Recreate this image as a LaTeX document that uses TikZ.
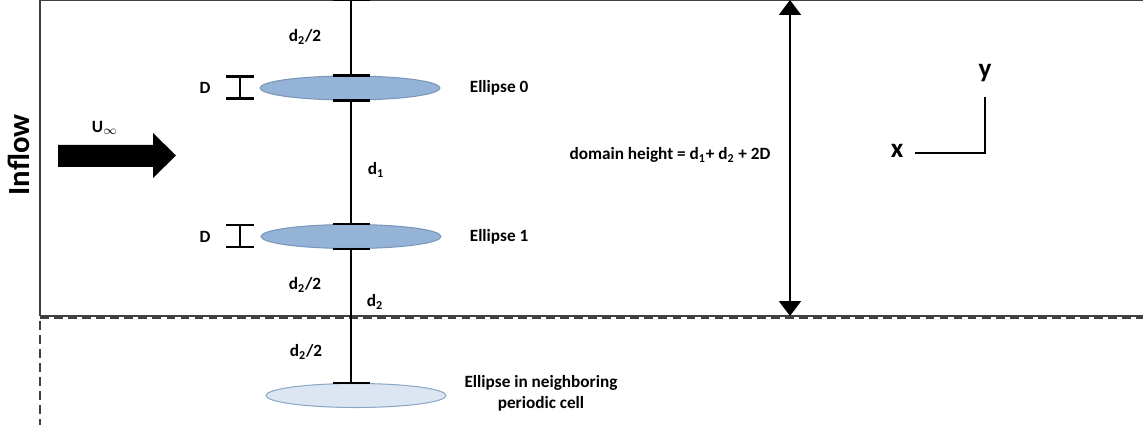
\documentclass[tikz,border=0pt]{standalone}
\usepackage{fontspec}
\setmainfont{Carlito}
\usetikzlibrary{arrows.meta,shapes.geometric,calc}
\definecolor{ellfill}{HTML}{95B3D7}
\definecolor{ellline}{HTML}{7A97BA}
\definecolor{ghostfill}{HTML}{DCE6F2}
\definecolor{ghostline}{HTML}{8DA8C6}
\definecolor{wallgray}{HTML}{404040}
\tikzset{
  lbl/.style={font=\bfseries\fontsize{9.8}{11.9}\selectfont, inner sep=1pt},
  axlbl/.style={font=\bfseries\fontsize{15.5}{17}\selectfont, inner sep=1pt},
  body/.style={ellipse, draw=ellline, fill=ellfill, line width=0.6pt, minimum width=3.6cm, minimum height=0.48cm, inner sep=0},
  ghost/.style={body, draw=ghostline, fill=ghostfill},
  wall/.style={wallgray, line width=1pt},
}
\begin{document}
\begin{tikzpicture}[x=0.02cm, y=-0.02cm, line width=1.25pt]
\useasboundingbox (0,0) rectangle (1143,425);
% channel walls
\draw[wall] (40,316) -- (40,0) -- (1143,0);
\draw[wall] (40,316) -- (1143,316);
\draw[wall, dash pattern=on 5pt off 3pt] (40,318) -- (1143,318);
\draw[wall, dash pattern=on 5pt off 3pt] (40,321) -- (40,425);

% inflow
\node[rotate=90, font=\bfseries\fontsize{17.5}{20}\selectfont] (inflow) at (19,155) {Inflow};
\fill (58,145) -- (153,145) -- (153,133) -- (176,155.5) -- (153,178) -- (153,167) -- (58,167) -- cycle;
\node[lbl] (uinf) at (105,128) {U\textsubscript{$\infty$}};

% ellipses
\node[body] (e0) at (350,88) {};
\node[body] (e1) at (351,236.5) {};
\node[ghost] (e2) at (356,395.5) {};
\node[lbl, anchor=west] (l0) at (467,88) {Ellipse 0};
\node[lbl, anchor=west] (l1) at (467,237) {Ellipse 1};
\node[lbl, align=center] (l2) at (541,393) {Ellipse in neighboring\\periodic cell};

% spacing line
\coordinate (top) at (351,0);
\coordinate (s0) at (e0.south -| top);
\coordinate (n0) at (e0.north -| top);
\coordinate (n2) at (e2.north -| top);
\draw (top) -- (n0);
\draw (s0) -- (e1.north);
\draw (e1.south) -- (n2);
\foreach \a in {top, n0, s0, e1.north, e1.south, n2}
  \draw ($(\a)+(-18,0)$) -- ++(37,0);
\node[lbl] (h0) at (305,37) {d\textsubscript{2}/2};
\node[lbl] (h1) at (376,170) {d\textsubscript{1}};
\node[lbl] (h2) at (305,285) {d\textsubscript{2}/2};
\node[lbl] (h3) at (375,302) {d\textsubscript{2}};
\node[lbl] (h4) at (306,352) {d\textsubscript{2}/2};

% thickness markers
\coordinate (dl) at (240,0);
\foreach \e in {e0, e1} {
  \draw ($(\e.north -| dl)+(-14,1)$) -- ++(28,0);
  \draw ($(\e.south -| dl)+(-14,-2)$) -- ++(28,0);
  \draw ($(\e.north -| dl)+(0,1)$) -- ($(\e.south -| dl)+(0,-2)$);
  \node[lbl] at ($(\e.center -| dl)+(-35,0)$) {D};
}

% domain height
\coordinate (dt) at (790,0);
\coordinate (db) at (790,316);
\draw[{Triangle[width=12.5pt,length=8.5pt]}-{Triangle[width=12.5pt,length=8.5pt]}] (dt) -- (db);
\node[lbl] (dh) at (670,155) {domain height = d\textsubscript{1}+ d\textsubscript{2} + 2D};

% axes
\node[axlbl] (xl) at (897,151) {x};
\node[axlbl] (yl) at (985,73) {y};
\coordinate (ax) at (985,153);
\coordinate (xe) at (915,153);
\coordinate (ye) at (985,97);
\draw (xe) -- (ax) -- (ye);
\end{tikzpicture}
\end{document}
